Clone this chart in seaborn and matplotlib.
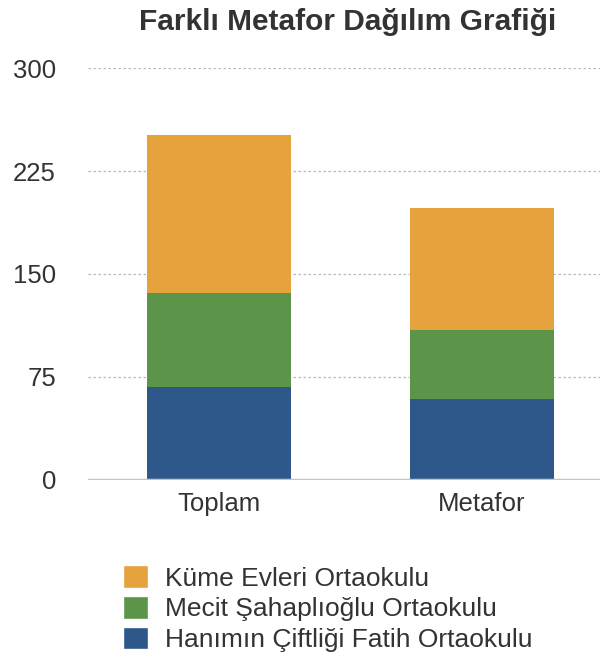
import matplotlib
matplotlib.use('Agg')
import matplotlib.pyplot as plt
from matplotlib.patches import Patch
import seaborn as sns
import pandas as pd
import numpy as np

categories = ['Toplam', 'Metafor']
schools = ['Hanımın Çiftliği Fatih Ortaokulu', 'Mecit Şahaplıoğlu Ortaokulu', 'Küme Evleri Ortaokulu']
hanimin = [68, 59]
mecit = [68, 50]
kume = [115, 89]
colors = ['#2e5889', '#5c9549', '#e6a23c']
yticks = [0, 75, 150, 225, 300]

sns.set_style('white')
plt.rcParams['font.family'] = ['Liberation Sans', 'DejaVu Sans']

fig = plt.figure(figsize=(6.06, 6.61), dpi=100)
ax = fig.add_axes([0.145, 0.274, 0.845, 0.623])

# stacked: draw cumulative totals from the top layer down
layers = np.array([hanimin, mecit, kume])
cum = layers.cumsum(axis=0)
for i in range(len(schools) - 1, -1, -1):
    df = pd.DataFrame({'cat': categories, 'val': cum[i]})
    sns.barplot(data=df, x='cat', y='val', color=colors[i], saturation=1,
                width=0.55, linewidth=0, ax=ax, zorder=3)

ax.set_ylim(0, 300)
ax.set_xlim(-0.5, 1.45)
ax.set_yticks(yticks)
ax.set_yticklabels([str(t) for t in yticks])
for t in yticks[1:]:
    ax.axhline(t, color='#b8b8b8', lw=0.9, ls=(0, (2, 2)), zorder=1)
ax.axhline(0, color='#c4c4c4', lw=2.5, zorder=4)
for s in ax.spines.values():
    s.set_visible(False)
ax.set_xlabel('')
ax.set_ylabel('')
ax.tick_params(axis='y', length=0, pad=23, labelsize=18.5, labelcolor='#333333')
ax.tick_params(axis='x', length=0, pad=9, labelsize=18.5, labelcolor='#333333')

fig.suptitle('Farklı Metafor Dağılım Grafiği', x=0.574, y=0.988,
             fontsize=21.5, fontweight='bold', color='#333333')

handles = [Patch(facecolor=colors[i], label=schools[i]) for i in [2, 1, 0]]
fig.legend(handles=handles, loc='upper left', bbox_to_anchor=(0.203, 0.145),
           frameon=False, fontsize=19, handlelength=0.95, handleheight=0.95,
           labelspacing=0.2, handletextpad=0.65, borderpad=0, borderaxespad=0,
           labelcolor='#333333')

plt.savefig('out.png', dpi=100)
plt.close()
